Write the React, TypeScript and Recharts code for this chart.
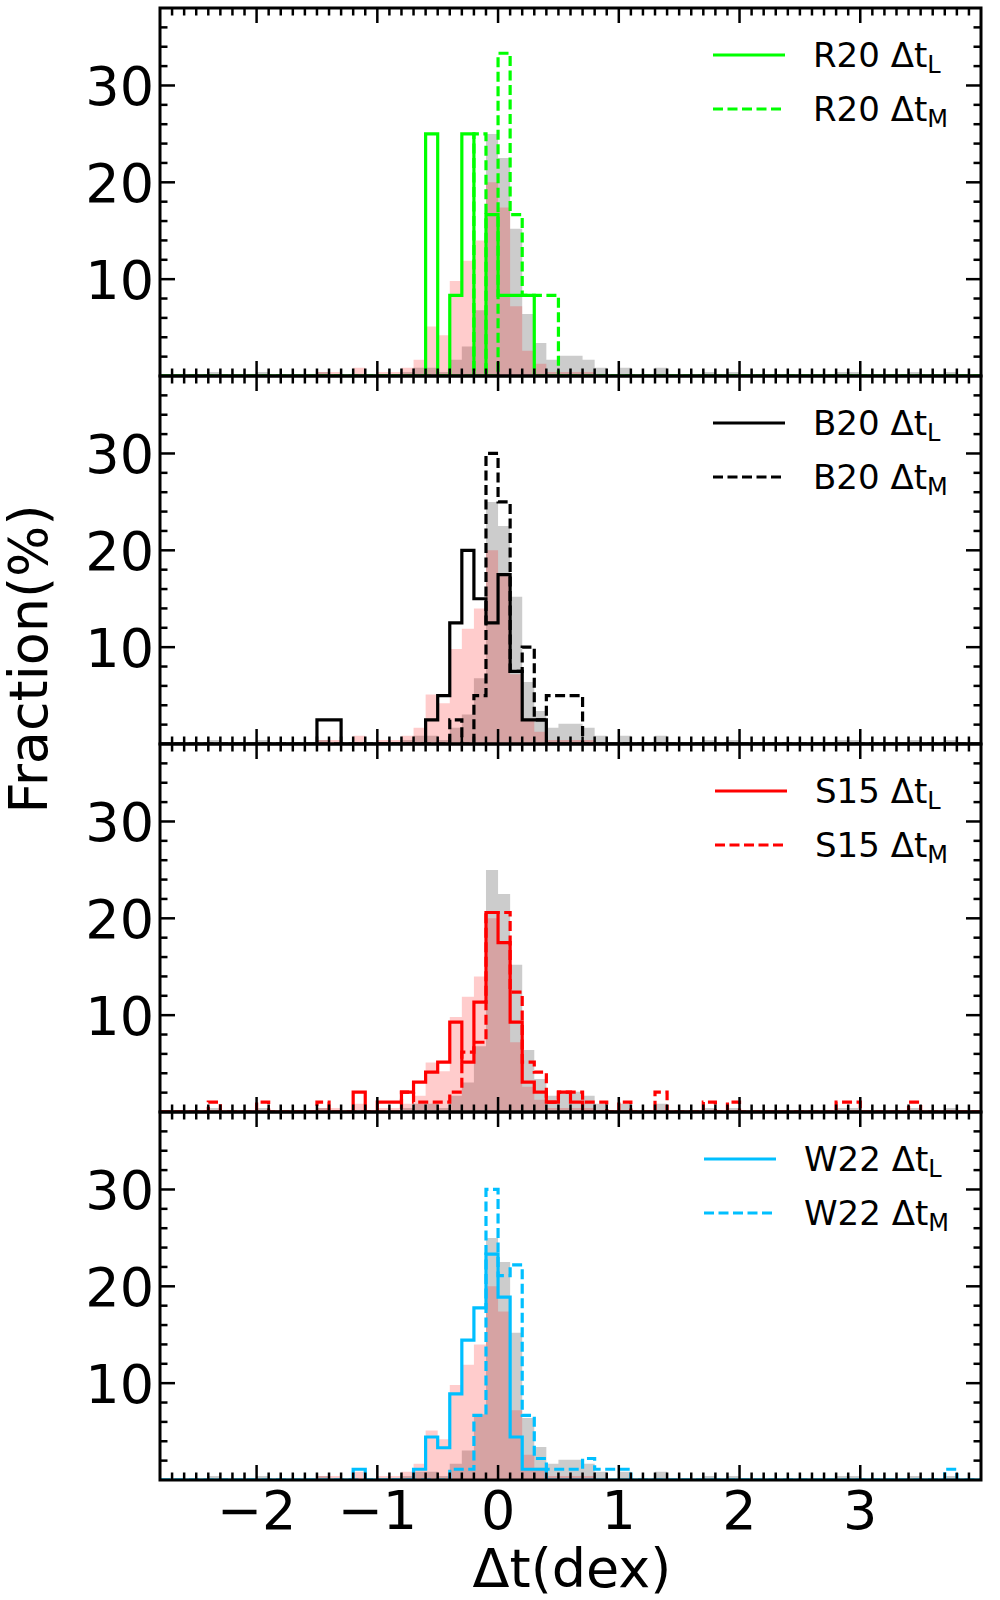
import React from 'react';
import { ComposedChart, Area, Line, XAxis, YAxis } from 'recharts';

// ---------- data (bin left edge in dex, fraction in %) ----------
const BIN_WIDTH = 0.1;
const X_MIN = -2.8;
const X_MAX = 4.0;
const Y_MAX = 38;

const grayHist: [number, number][] = [
  [-2.4, 0.42], [-2.0, 0.42], [-1.5, 0.42], [-0.8, 0.42], [-0.7, 0.84], [-0.6, 0.84],
  [-0.5, 0.42], [-0.4, 1.68], [-0.3, 3.05], [-0.2, 6.8], [-0.1, 25.0], [0.0, 22.5],
  [0.1, 15.2], [0.2, 6.4], [0.3, 3.4], [0.4, 1.68], [0.5, 2.1], [0.6, 2.1], [0.7, 1.68],
  [0.8, 0.84], [1.0, 0.84], [1.3, 0.84], [1.7, 0.42], [1.9, 0.42], [2.8, 0.42],
  [2.9, 0.42], [3.4, 0.42], [3.7, 0.42],
];

const pinkHist: [number, number][] = [
  [-1.5, 0.42], [-1.4, 0.42], [-1.2, 0.84], [-1.0, 0.42], [-0.9, 0.42], [-0.8, 0.84],
  [-0.7, 1.68], [-0.6, 5.1], [-0.5, 4.2], [-0.4, 9.8], [-0.3, 11.9], [-0.2, 14.0],
  [-0.1, 20.0], [0.0, 17.4], [0.1, 7.2], [0.2, 2.6], [0.3, 1.26], [0.4, 0.42],
  [0.5, 0.42], [0.6, 0.42], [0.7, 0.42],
];

const r20L: [number, number][] = [
  [-0.6, 25.0], [-0.4, 8.33], [-0.3, 25.0], [-0.1, 16.67], [0.0, 8.33], [0.1, 8.33], [0.2, 8.33],
];
const r20M: [number, number][] = [
  [-0.2, 25.0], [0.0, 33.33], [0.1, 16.67], [0.2, 8.33], [0.3, 8.33], [0.4, 8.33],
];

const b20L: [number, number][] = [
  [-1.5, 2.5], [-1.4, 2.5], [-0.6, 2.5], [-0.5, 5.0], [-0.4, 12.5], [-0.3, 20.0],
  [-0.2, 15.0], [-0.1, 12.5], [0.0, 17.5], [0.1, 7.5], [0.2, 2.5], [0.3, 2.5],
];
const b20M: [number, number][] = [
  [-0.4, 2.5], [-0.2, 5.0], [-0.1, 30.0], [0.0, 25.0], [0.1, 7.5], [0.2, 10.0],
  [0.3, 2.5], [0.4, 5.0], [0.5, 5.0], [0.6, 5.0],
];

const s15L: [number, number][] = [
  [-1.2, 2.06], [-1.0, 1.03], [-0.9, 1.03], [-0.8, 2.06], [-0.7, 3.09], [-0.6, 4.12],
  [-0.5, 5.15], [-0.4, 9.28], [-0.3, 5.15], [-0.2, 11.34], [-0.1, 20.6], [0.0, 17.5],
  [0.1, 9.28], [0.2, 3.09], [0.3, 2.06], [0.4, 1.03], [0.5, 2.06], [0.6, 1.03],
];
const s15M: [number, number][] = [
  [-2.4, 1.03], [-2.0, 1.03], [-1.5, 1.03], [-0.8, 2.06], [-0.7, 1.03], [-0.6, 1.03],
  [-0.5, 1.03], [-0.4, 2.06], [-0.3, 6.18], [-0.2, 7.2], [-0.1, 20.6], [0.0, 20.6],
  [0.1, 12.37], [0.2, 5.15], [0.3, 4.12], [0.4, 1.03], [0.5, 2.06], [0.6, 2.06],
  [0.7, 1.03], [0.8, 1.03], [1.0, 1.03], [1.3, 2.06], [1.7, 1.03], [1.9, 1.03],
  [2.8, 1.03], [2.9, 1.03], [3.4, 1.03],
];

const w22L: [number, number][] = [
  [-1.2, 1.11], [-0.7, 1.11], [-0.6, 4.44], [-0.5, 3.33], [-0.4, 8.89], [-0.3, 14.44],
  [-0.2, 17.78], [-0.1, 23.33], [0.0, 18.89], [0.1, 4.44], [0.2, 1.11], [0.3, 1.11],
];
const w22M: [number, number][] = [
  [-0.4, 1.11], [-0.3, 1.11], [-0.2, 6.67], [-0.1, 30.0], [0.0, 21.11], [0.1, 22.22],
  [0.2, 6.67], [0.3, 2.22], [0.4, 1.11], [0.5, 1.11], [0.6, 1.11], [0.7, 2.22],
  [0.8, 1.11], [0.9, 1.11], [1.0, 1.11], [3.7, 1.11],
];

const xMajorTicks = [-2, -1, 0, 1, 2, 3];
const xTickLabels = ['\u22122', '\u22121', '0', '1', '2', '3'];
const yMajorTicks = [10, 20, 30];
const yTickLabels = ['10', '20', '30'];

const panels = [
  { name: 'R20', color: '#00ff00', L: r20L, M: r20M, textX: 813 },
  { name: 'B20', color: '#000000', L: b20L, M: b20M, textX: 813 },
  { name: 'S15', color: '#ff0000', L: s15L, M: s15M, textX: 815 },
  { name: 'W22', color: '#00bfff', L: w22L, M: w22M, textX: 804 },
];

// ---------- table built from the arrays ----------
const toMap = (h: [number, number][]) => {
  const m = new Map<number, number>();
  h.forEach(([e, v]) => m.set(Math.round(e / BIN_WIDTH), v));
  return m;
};
const seriesMaps: Record<string, Map<number, number>> = {
  gray: toMap(grayHist),
  pink: toMap(pinkHist),
};
panels.forEach((p) => {
  seriesMaps[p.name + '_L'] = toMap(p.L);
  seriesMaps[p.name + '_M'] = toMap(p.M);
});
const firstKey = Math.round(X_MIN / BIN_WIDTH);
const lastKey = Math.round(X_MAX / BIN_WIDTH);
const rows: Record<string, number>[] = [];
for (let key = firstKey; key <= lastKey; key++) {
  const row: Record<string, number> = { x: key / 10 };
  Object.keys(seriesMaps).forEach((s) => {
    row[s] = key < lastKey ? seriesMaps[s].get(key) ?? 0 : 0;
  });
  rows.push(row);
}
const xTicks: number[] = [];
for (let key = firstKey + 1; key < lastKey; key++) xTicks.push(key / 10);
const yTicks: number[] = [];
for (let v = 2; v < Y_MAX; v += 2) yTicks.push(v);

// ---------- layout ----------
const FONT = 'DejaVu Sans';
const PLOT_LEFT = 160;
const PLOT_W = 821;
const PLOT_TOP = 8;
const PLOT_H = 368;
const PAD = 10;
const CHART_W = 1000;
const MAJOR_LEN = 15;
const MINOR_LEN = 7.5;
const TICK_W = 2.5;
const LINE_W = 3.2;
const DASH = '10 4.5';
const TICK_FONT = 54;

const makeXTick = (showLabels: boolean) => (props: any) => {
  const { x, y, payload } = props;
  const v = payload.value as number;
  const major = Math.abs(v - Math.round(v)) < 1e-6;
  const len = major ? MAJOR_LEN : MINOR_LEN;
  const idx = major ? xMajorTicks.indexOf(Math.round(v)) : -1;
  return (
    <g>
      <line x1={x} y1={y} x2={x} y2={y - len} stroke="#000" strokeWidth={TICK_W} />
      <line x1={x} y1={y - PLOT_H} x2={x} y2={y - PLOT_H + len} stroke="#000" strokeWidth={TICK_W} />
      {showLabels && idx >= 0 && (
        <text x={x} y={y + 49} textAnchor="middle" fontSize={TICK_FONT} fontFamily={FONT} fill="#000">
          {xTickLabels[idx]}
        </text>
      )}
    </g>
  );
};

const yTick = (props: any) => {
  const { x, y, payload } = props;
  const v = payload.value as number;
  const idx = yMajorTicks.indexOf(v);
  const len = idx >= 0 ? MAJOR_LEN : MINOR_LEN;
  return (
    <g>
      <line x1={x} y1={y} x2={x + len} y2={y} stroke="#000" strokeWidth={TICK_W} />
      <line x1={x + PLOT_W} y1={y} x2={x + PLOT_W - len} y2={y} stroke="#000" strokeWidth={TICK_W} />
      {idx >= 0 && (
        <text x={x - 6} y={y} dy="0.36em" textAnchor="end" fontSize={TICK_FONT} fontFamily={FONT} fill="#000">
          {yTickLabels[idx]}
        </text>
      )}
    </g>
  );
};

function Panel({ index }: { index: number }) {
  const p = panels[index];
  const isBottom = index === panels.length - 1;
  const axisH = isBottom ? 110 : 1;
  const bottomMargin = isBottom ? 0 : PAD - 1;
  const height = PAD + PLOT_H + axisH + bottomMargin;
  const top = PLOT_TOP + index * PLOT_H - PAD;
  return (
    <div style={{ position: 'absolute', left: 0, top, width: CHART_W, height }}>
      <ComposedChart
        width={CHART_W}
        height={height}
        data={rows}
        margin={{ top: PAD, right: CHART_W - PLOT_LEFT - PLOT_W, bottom: bottomMargin, left: 0 }}
      >
        <Area type="stepAfter" dataKey="gray" fill="#808080" fillOpacity={0.4} stroke="none" baseValue={0} isAnimationActive={false} />
        <Area type="stepAfter" dataKey="pink" fill="#ff0000" fillOpacity={0.2} stroke="none" baseValue={0} isAnimationActive={false} />
        <Line type="stepAfter" dataKey={p.name + '_L'} stroke={p.color} strokeWidth={LINE_W} dot={false} activeDot={false} isAnimationActive={false} />
        <Line type="stepAfter" dataKey={p.name + '_M'} stroke={p.color} strokeWidth={LINE_W} strokeDasharray={DASH} dot={false} activeDot={false} isAnimationActive={false} />
        <XAxis
          dataKey="x"
          type="number"
          domain={[X_MIN, X_MAX]}
          allowDataOverflow
          ticks={xTicks}
          interval={0}
          tickSize={0}
          tickMargin={0}
          tickLine={false}
          axisLine={false}
          height={axisH}
          tick={makeXTick(isBottom)}
        />
        <YAxis
          type="number"
          domain={[0, Y_MAX]}
          allowDataOverflow
          ticks={yTicks}
          interval={0}
          tickSize={0}
          tickMargin={0}
          tickLine={false}
          axisLine={false}
          width={PLOT_LEFT}
          tick={yTick}
        />
      </ComposedChart>
    </div>
  );
}

function Legend({ index }: { index: number }) {
  const p = panels[index];
  const top = PLOT_TOP + index * PLOT_H;
  const rowsY = [top + 47, top + 101];
  const subs = ['L', 'M'];
  return (
    <g>
      {rowsY.map((cy, i) => (
        <g key={i}>
          <line
            x1={p.textX - 100}
            x2={p.textX - 28}
            y1={cy}
            y2={cy}
            stroke={p.color}
            strokeWidth={LINE_W}
            strokeDasharray={i === 1 ? DASH : undefined}
          />
          <text x={p.textX} y={cy + 12} fontSize={34} fontFamily={FONT} fill="#000">
            {p.name + ' \u0394t'}
            <tspan dy={6} fontSize={24}>{subs[i]}</tspan>
          </text>
        </g>
      ))}
    </g>
  );
}

export default function App() {
  return (
    <div style={{ position: 'absolute', left: 0, top: 0, width: 1000, height: 1600, background: '#fff', fontFamily: FONT }}>
      {panels.map((p, i) => (
        <Panel key={p.name} index={i} />
      ))}
      <svg width={1000} height={1600} style={{ position: 'absolute', left: 0, top: 0, pointerEvents: 'none' }}>
        {panels.map((p, i) => (
          <rect key={p.name} x={PLOT_LEFT} y={PLOT_TOP + i * PLOT_H} width={PLOT_W} height={PLOT_H} fill="none" stroke="#000" strokeWidth={3} />
        ))}
        {panels.map((p, i) => (
          <Legend key={p.name} index={i} />
        ))}
        <text x={47} y={659} transform="rotate(-90 47 659)" textAnchor="middle" fontSize={54} fontFamily={FONT} fill="#000">
          Fraction(%)
        </text>
        <text x={572} y={1587} textAnchor="middle" fontSize={54} fontFamily={FONT} fill="#000">
          {'\u0394t(dex)'}
        </text>
      </svg>
    </div>
  );
}
